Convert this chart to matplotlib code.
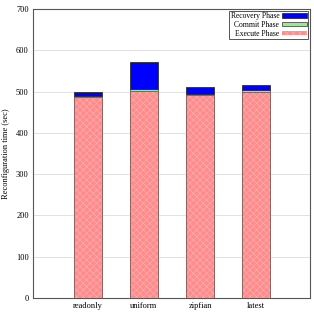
import numpy as np
import matplotlib.pyplot as plt

plt.rcParams['font.family'] = ['Liberation Serif', 'DejaVu Serif']
plt.rcParams['hatch.linewidth'] = 0.4

# data
workloads = ['readonly', 'uniform', 'zipfian', 'latest']
execute_phase = [487, 502, 492, 500]
commit_phase = [3, 4, 3, 4]
recovery_phase = [9, 65, 16, 13]

fig = plt.figure(figsize=(3.14, 3.13), dpi=100)
ax = fig.add_axes([0.105, 0.048, 0.882, 0.923])

x = np.arange(len(workloads))
ex = np.array(execute_phase)
cm = np.array(commit_phase)
rc = np.array(recovery_phase)

# execute phase: light hatch on pink, outline drawn on top
b1 = ax.bar(x, ex, 0.5, color='#ff8c8c', edgecolor='#ffb4b4', hatch='xxxxx',
            linewidth=0, label='Execute Phase', zorder=3)
ax.bar(x, ex, 0.5, fill=False, edgecolor='#906060', linewidth=0.7, zorder=4)
b2 = ax.bar(x, cm, 0.5, bottom=ex, color='#90ee90', edgecolor='#505050',
            linewidth=0.6, label='Commit Phase', zorder=3)
b3 = ax.bar(x, rc, 0.5, bottom=ex + cm, color='#0000ff', edgecolor='#303030',
            linewidth=0.6, label='Recovery Phase', zorder=3)

ax.set_xlim(-0.98, 3.96)
ax.set_ylim(0, 700)
ax.set_yticks(range(0, 701, 100))
ax.set_xticks(x)
ax.set_xticklabels(workloads)
ax.tick_params(labelsize=6, length=0, pad=3)
ax.yaxis.grid(True, color='#dddddd', linewidth=0.6, zorder=0)
for s in ax.spines.values():
    s.set_color('#555555')
    s.set_linewidth(0.8)

ax.set_ylabel('Reconfiguration time (sec)', fontsize=6)
ax.yaxis.set_label_coords(-0.083, 0.5)

leg = ax.legend(handles=[b3, b2, b1], loc='upper right', fontsize=5.5,
                markerfirst=False, fancybox=False, edgecolor='#555555',
                framealpha=1, handlelength=3.2, handleheight=0.5,
                borderpad=0.2, labelspacing=0.1, handletextpad=0.4,
                borderaxespad=0.2)
leg.get_frame().set_linewidth(0.7)

fig.savefig('out.png', dpi=100)
